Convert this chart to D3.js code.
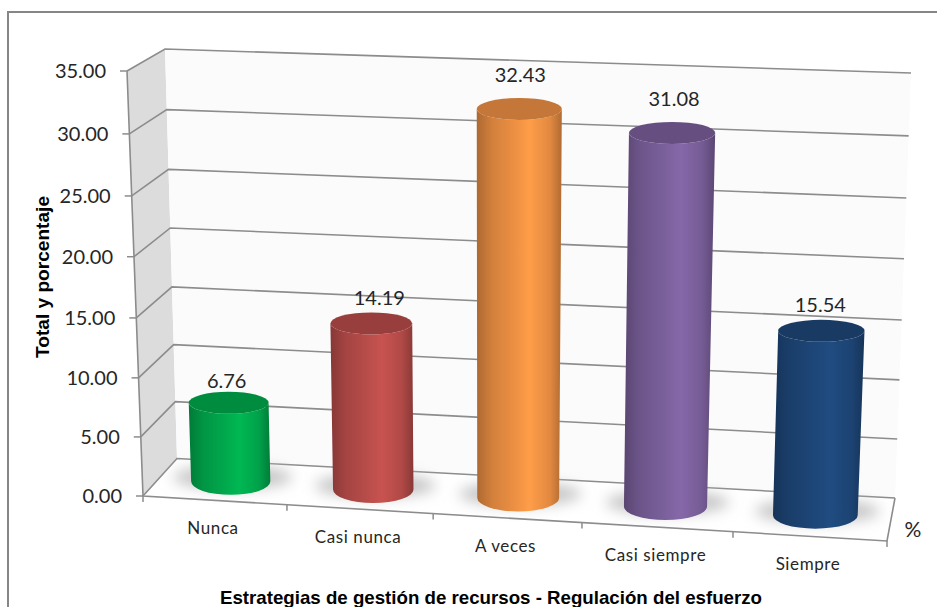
<!DOCTYPE html>
<html>
<head>
<meta charset="utf-8">
<script src="https://cdn.jsdelivr.net/npm/d3@7"></script>
<style>
  body { margin: 0; background: #fff; }
  text { font-family: Lato, sans-serif; fill: #262626; }
  .bold { font-family: "Liberation Sans", Arial, sans-serif; font-weight: bold; fill: #000; }
</style>
</head>
<body>
<div id="chart"></div>
<script>
// Datos del grafico
const categories = ["Nunca", "Casi nunca", "A veces", "Casi siempre", "Siempre"];
const values = [6.76, 14.19, 32.43, 31.08, 15.54];
const yTicks = [0, 5, 10, 15, 20, 25, 30, 35];
const colors = ["#00b050", "#c0504d", "#f79646", "#8064a2", "#1f497d"];

const width = 937;
const height = 607;

const svg = d3.select("#chart").append("svg")
  .attr("width", width)
  .attr("height", height)
  .style("display", "block");

const defs = svg.append("defs");
defs.append("filter").attr("id", "blur")
  .attr("x", "-30%").attr("y", "-60%").attr("width", "160%").attr("height", "220%")
  .append("feGaussianBlur").attr("stdDeviation", 7);

// Esquinas de la caja 3D: suelo y techo, frente y fondo
const floor = { fl: [143, 496], fr: [887, 541], bl: [177, 458.5], br: [895, 498] };
const roof = { fl: [127, 71], fr: [905, 116], bl: [165, 49], br: [911, 73] };

// Escalas no lineales por la perspectiva
const rise = d3.scaleLinear()
  .domain(yTicks)
  .range([0, 0.139, 0.278, 0.419, 0.563, 0.706, 0.852, 1]);
const catPos = d3.scaleLinear()
  .domain([0, 1, 2, 3, 4, 5])
  .range([0, 0.1935, 0.39, 0.59, 0.793, 1]);

const mix = (a, b, t) => a + (b - a) * t;

function quad(q, u, d) {
  return [0, 1].map((k) =>
    mix(mix(q.fl[k], q.fr[k], u), mix(q.bl[k], q.br[k], u), d));
}

// u: posicion horizontal (0-1), d: profundidad (0 frente, 1 fondo), v: valor
function project(u, d, v) {
  const a = quad(floor, u, d);
  const b = quad(roof, u, d);
  const t = rise(v);
  return [mix(a[0], b[0], t), mix(a[1], b[1], t)];
}

const line = d3.line();
const axisColor = "#8c8c8c";

// Pared lateral, pared de fondo y suelo
svg.append("path")
  .attr("d", line([project(0, 0, 0), project(0, 1, 0), project(0, 1, 35), project(0, 0, 35)]) + "Z")
  .attr("fill", "#dcdcdc");
svg.append("path")
  .attr("d", line([project(0, 1, 0), project(1, 1, 0), project(1, 1, 35), project(0, 1, 35)]) + "Z")
  .attr("fill", "#fbfbfb");
svg.append("path")
  .attr("d", line([project(0, 0, 0), project(1, 0, 0), project(1, 1, 0), project(0, 1, 0)]) + "Z")
  .attr("fill", "#fff");

// Marco del grafico
svg.append("path")
  .attr("d", "M8,607V12H937")
  .attr("fill", "none")
  .attr("stroke", "#868686")
  .attr("stroke-width", 2);

// Lineas de cuadricula
yTicks.forEach((v) => {
  svg.append("path")
    .attr("d", line([project(0, 0, v), project(0, 1, v), project(1, 1, v)]))
    .attr("fill", "none")
    .attr("stroke", axisColor)
    .attr("stroke-width", 1.6);
});

// Ejes
svg.append("path")
  .attr("d", line([project(0, 0, 35), project(0, 0, 0), project(1, 0, 0), project(1, 1, 0)]))
  .attr("fill", "none")
  .attr("stroke", axisColor)
  .attr("stroke-width", 1.6);

yTicks.forEach((v) => {
  const p = project(0, 0, v);
  svg.append("line")
    .attr("x1", p[0] - 7).attr("y1", p[1])
    .attr("x2", p[0]).attr("y2", p[1])
    .attr("stroke", axisColor)
    .attr("stroke-width", 1.5);
  svg.append("text")
    .attr("x", p[0] - 21)
    .attr("y", p[1])
    .attr("dy", "0.35em")
    .attr("text-anchor", "end")
    .style("font-size", "20px")
    .text(v.toFixed(2));
});

d3.range(categories.length + 1).forEach((i) => {
  const p = project(catPos(i), 0, 0);
  svg.append("line")
    .attr("x1", p[0]).attr("y1", p[1])
    .attr("x2", p[0]).attr("y2", p[1] + 6)
    .attr("stroke", axisColor)
    .attr("stroke-width", 1.5);
});

// Etiquetas de categoria
svg.selectAll(".cat")
  .data(categories)
  .enter()
  .append("text")
  .attr("class", "cat")
  .attr("x", (d, i) => project(catPos(i + 0.5), 0, 0)[0] - 2)
  .attr("y", (d, i) => project(catPos(i + 0.5), 0, 0)[1] + 28)
  .attr("dy", "0.35em")
  .attr("text-anchor", "middle")
  .style("font-size", "17px")
  .style("letter-spacing", "0.6px")
  .text((d) => d);

// Cilindros
const halfBar = 0.28;
const ry = 11;
const ryBase = 13.5;
const depth = 0.5;
const labelNudge = [-2, 8, 1, 2, -1];

const bars = categories.map((c, i) => {
  const u = catPos(i + 0.5);
  const uL = catPos(i + 0.5 - halfBar);
  const uR = catPos(i + 0.5 + halfBar);
  return {
    base: project(u, depth, 0),
    top: project(u, depth, values[i]),
    baseL: project(uL, depth, 0)[0],
    baseR: project(uR, depth, 0)[0],
    topL: project(uL, depth, values[i])[0],
    topR: project(uR, depth, values[i])[0],
    color: colors[i],
    value: values[i],
    nudge: labelNudge[i],
  };
});

bars.forEach((b, i) => {
  const c = d3.color(b.color);
  const grad = defs.append("linearGradient")
    .attr("id", `bar-${i}`)
    .attr("x1", 0).attr("x2", 1).attr("y1", 0).attr("y2", 0);
  [
    [0, c.darker(1)],
    [0.18, c.darker(0.45)],
    [0.42, c.darker(0.15)],
    [0.62, c.brighter(0.12)],
    [0.86, c.darker(0.25)],
    [1, c.darker(0.95)],
  ].forEach(([o, col]) => {
    grad.append("stop").attr("offset", o).attr("stop-color", col);
  });
});

// Sombra sobre el suelo
svg.selectAll(".shadow")
  .data(bars)
  .enter()
  .append("ellipse")
  .attr("class", "shadow")
  .attr("cx", (d) => d.base[0] + 2)
  .attr("cy", (d) => d.base[1] - 4)
  .attr("rx", (d) => (d.baseR - d.baseL) / 2 + 20)
  .attr("ry", 12)
  .attr("fill", "#c6c6c6")
  .attr("filter", "url(#blur)");

const barG = svg.selectAll(".bar")
  .data(bars)
  .enter()
  .append("g")
  .attr("class", "bar");

barG.append("path")
  .attr("d", (d) => {
    const rxB = (d.baseR - d.baseL) / 2;
    const rxT = (d.topR - d.topL) / 2;
    return `M${d.topL},${d.top[1]}L${d.baseL},${d.base[1]}` +
      `A${rxB},${ryBase} 0 0 0 ${d.baseR},${d.base[1]}` +
      `L${d.topR},${d.top[1]}A${rxT},${ry} 0 0 1 ${d.topL},${d.top[1]}Z`;
  })
  .attr("fill", (d, i) => `url(#bar-${i})`);

barG.append("ellipse")
  .attr("cx", (d) => (d.topL + d.topR) / 2)
  .attr("cy", (d) => d.top[1])
  .attr("rx", (d) => (d.topR - d.topL) / 2)
  .attr("ry", ry)
  .attr("fill", (d) => d3.color(d.color).darker(0.65));

// Valores sobre cada cilindro
barG.append("text")
  .attr("x", (d) => (d.topL + d.topR) / 2 + d.nudge)
  .attr("y", (d) => d.top[1] - 18 - d.value * 0.5)
  .attr("dy", "0.35em")
  .attr("text-anchor", "middle")
  .style("font-size", "20px")
  .text((d) => d.value.toFixed(2));

// Titulos
svg.append("text")
  .attr("class", "bold")
  .attr("transform", "translate(49,277) rotate(-90)")
  .attr("text-anchor", "middle")
  .attr("textLength", 162)
  .attr("lengthAdjust", "spacingAndGlyphs")
  .style("font-size", "18px")
  .text("Total y porcentaje");

svg.append("text")
  .attr("class", "bold")
  .attr("x", 491)
  .attr("y", 604)
  .attr("text-anchor", "middle")
  .attr("textLength", 542)
  .attr("lengthAdjust", "spacingAndGlyphs")
  .style("font-size", "19px")
  .text("Estrategias de gestión de recursos - Regulación del esfuerzo");

svg.append("text")
  .attr("x", 913)
  .attr("y", 537)
  .attr("text-anchor", "middle")
  .style("font-size", "21px")
  .text("%");
</script>
</body>
</html>
